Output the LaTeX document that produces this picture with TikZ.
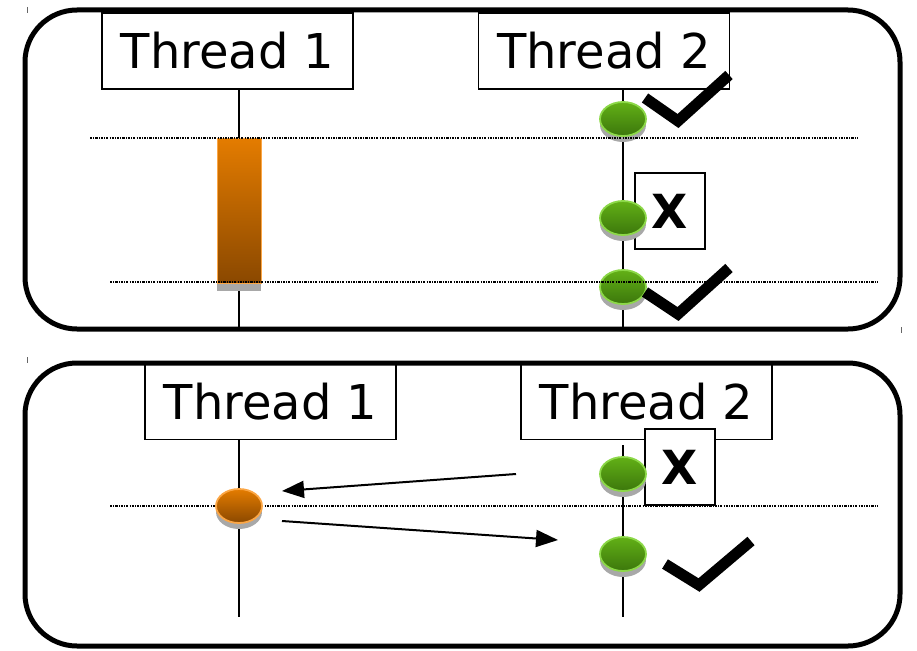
\documentclass[tikz,border=0pt]{standalone}
\usepackage{fontspec}
\setmainfont{DejaVu Sans}
\usetikzlibrary{arrows.meta,shapes.geometric,shadows}

\definecolor{greenTop}{HTML}{62B016}
\definecolor{greenBot}{HTML}{3C770C}
\definecolor{greenRim}{HTML}{8CD848}
\definecolor{orangeTop}{HTML}{E47C00}
\definecolor{orangeBot}{HTML}{8A4800}
\definecolor{orangeRim}{HTML}{FBA645}
\definecolor{shadowGray}{HTML}{A8A8A8}

\tikzset{
  panel/.style={line width=5pt, rounded corners=52pt},
  threadbox/.style={draw, line width=1.2pt, minimum width=251pt, minimum height=76pt,
    inner sep=0pt, font=\fontsize{48}{52}\selectfont},
  xbox/.style={draw, fill=white, line width=1.2pt, minimum width=70pt, minimum height=76pt,
    inner sep=0pt, font=\fontsize{47}{50}\selectfont\bfseries},
  timeline/.style={line width=1.3pt},
  syncline/.style={line width=1.8pt, black, dash pattern=on 2.2pt off 1.2pt on 0.8pt off 1.2pt},
  event/.style={ellipse, minimum width=46pt, minimum height=34pt, inner sep=0pt, line width=1.8pt,
    drop shadow={shadow xshift=0pt, shadow yshift=-6pt, fill=shadowGray, opacity=1}},
  greenevent/.style={event, draw=greenRim, top color=greenTop, bottom color=greenBot},
  orangeevent/.style={event, draw=orangeRim, top color=orangeTop, bottom color=orangeBot},
  checkstroke/.style={line width=11pt, miter limit=10},
  msg/.style={line width=2pt, -{Triangle[length=22pt, width=17pt]}},
  cornermark/.style={line width=0.8pt, black!60}
}

\begin{document}
\begin{tikzpicture}[x=1pt, y=-1pt]
\useasboundingbox (0,0) rectangle (917,650);

% ---------------- upper panel ----------------
\draw[panel] (25,10) rectangle (900,329);
\draw[cornermark] (27,7) -- (27,13);
\draw[cornermark] (901,327) -- (901,333);

\node[threadbox] (ta1) at (227.5,51) {\raisebox{-2pt}{Thread 1}};
\node[threadbox] (ta2) at (604,51) {\raisebox{-2pt}{Thread 2}};
\coordinate (ta1end) at (239,327);
\coordinate (ta2end) at (623,327);
\draw[timeline] (ta1.south -| ta1end) -- (ta1end);
\draw[timeline] (ta2.south -| ta2end) -- (ta2end);

% long-running operation on thread 1
\fill[shadowGray] (217,280) rectangle (261,291);
\node[draw=orangeRim, line width=1pt, top color=orangeTop, bottom color=orangeBot,
  minimum width=44pt, minimum height=145pt, inner sep=0pt] (busy) at (239,210.5) {};

\coordinate (sa1) at (90,138);  \coordinate (sa2) at (858,138);
\coordinate (sb1) at (110,282); \coordinate (sb2) at (878,282);

\node[xbox] (xa) at (670,211) {X};

\node[greenevent] (ga1) at (623,119) {};
\node[greenevent] (ga2) at (623,218) {};
\node[greenevent] (ga3) at (623,287) {};

\draw[syncline] (sa1) -- (sa2);
\draw[syncline] (sb1) -- (sb2);

\coordinate (ca1) at (645,98);  \coordinate (ca2) at (678,121); \coordinate (ca3) at (729,75);
\draw[checkstroke] (ca1) -- (ca2) -- (ca3);
\coordinate (cb1) at (645,292); \coordinate (cb2) at (678,314); \coordinate (cb3) at (729,268);
\draw[checkstroke] (cb1) -- (cb2) -- (cb3);

% ---------------- lower panel ----------------
\draw[panel] (25,363) rectangle (900,646);
\draw[cornermark] (27,357) -- (27,363);

\node[threadbox] (tb1) at (270.5,401.5) {\raisebox{-2pt}{Thread 1}};
\node[threadbox] (tb2) at (646.5,401.5) {\raisebox{-2pt}{Thread 2}};
\coordinate (tb1end) at (239,617);
\coordinate (tb2end) at (623,617);
\draw[timeline] (tb1.south -| tb1end) -- (tb1end);
\draw[timeline] ([yshift=-5pt]tb2.south -| tb2end) -- (tb2end);

\coordinate (sc1) at (110,506); \coordinate (sc2) at (878,506);
\draw[syncline] (sc1) -- (sc2);

\node[xbox] (xb) at (680,467) {X};

\node[orangeevent] (ob) at (239,506) {};
\node[greenevent] (gb1) at (623,474) {};
\node[greenevent] (gb2) at (623,554) {};

\coordinate (m1s) at (516,474); \coordinate (m1e) at (282,491);
\coordinate (m2s) at (282,521); \coordinate (m2e) at (558,540);
\draw[msg] (m1s) -- (m1e);
\draw[msg] (m2s) -- (m2e);

\coordinate (cc1) at (665,564); \coordinate (cc2) at (699,585); \coordinate (cc3) at (751,541);
\draw[checkstroke] (cc1) -- (cc2) -- (cc3);
\end{tikzpicture}
\end{document}
